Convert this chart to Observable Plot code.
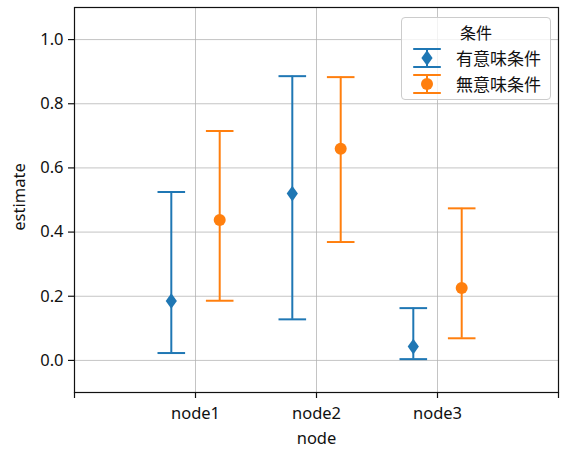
<!DOCTYPE html>
<html><head><meta charset="utf-8">
<script src="https://cdn.jsdelivr.net/npm/d3@7"></script>
<script src="https://cdn.jsdelivr.net/npm/@observablehq/plot@0.6"></script>
<style>
body{margin:0;background:#fff;}
#wrap{position:relative;width:572px;height:457px;font-family:"Noto Sans","Noto Sans CJK JP",sans-serif;color:#111;}
.legend{position:absolute;left:401px;top:17px;width:150px;height:83px;border:1px solid #cccccc;border-radius:4px;background:rgba(255,255,255,0.8);box-sizing:border-box;}
.legend .t{position:absolute;left:0;width:100%;text-align:center;font-size:16px;line-height:20px;top:4px;font-family:"Noto Sans CJK JP",sans-serif;}
.legend .l{position:absolute;left:54px;font-size:17px;line-height:20px;font-family:"Noto Sans CJK JP",sans-serif;white-space:nowrap;}
.legend svg{position:absolute;left:10px;}
</style></head><body><div id="wrap"></div>
<script>
const nodes = ["node1", "node2", "node3"];
const conditions = ["有意味条件", "無意味条件"];
const legendTitle = "条件";
const estMeaningful = [0.185, 0.520, 0.043];
const lowMeaningful = [0.023, 0.128, 0.004];
const highMeaningful = [0.525, 0.886, 0.163];
const estMeaningless = [0.438, 0.660, 0.226];
const lowMeaningless = [0.186, 0.369, 0.069];
const highMeaningless = [0.715, 0.883, 0.474];
const xTickLabels = ["", "node1", "node2", "node3", ""];
const yTicks = [0.0, 0.2, 0.4, 0.6, 0.8, 1.0];
const yLabel = "estimate";
const xLabel = "node";
const colors = ["#1f77b4", "#ff7f0e"];

const series = [
  {est: estMeaningful, lo: lowMeaningful, hi: highMeaningful},
  {est: estMeaningless, lo: lowMeaningless, hi: highMeaningless}
];
const offsets = [-0.2, 0.2];
const rows = [];
series.forEach((s, ci) => {
  nodes.forEach((n, ni) => {
    rows.push({node: n, cond: conditions[ci], pos: ni + 1 + offsets[ci], est: s.est[ni], lo: s.lo[ni], hi: s.hi[ni]});
  });
});

const CAP = 13.8;
const DW = 5.6, DH = 7.8;
const capSym = {draw(ctx) { ctx.moveTo(-CAP, 0); ctx.lineTo(CAP, 0); }};
const diamondSym = {draw(ctx) { ctx.moveTo(0, -DH); ctx.lineTo(DW, 0); ctx.lineTo(0, DH); ctx.lineTo(-DW, 0); ctx.closePath(); }};
const circleSym = {draw(ctx) { ctx.moveTo(6, 0); ctx.arc(0, 0, 6, 0, 2 * Math.PI); }};

const meaningfulRows = rows.filter(d => d.cond === conditions[0]);
const meaninglessRows = rows.filter(d => d.cond === conditions[1]);

const FONT = '"Noto Sans","Noto Sans CJK JP",sans-serif';
const chart = Plot.plot({
  width: 572,
  height: 457,
  marginLeft: 74,
  marginRight: 14,
  marginTop: 7,
  marginBottom: 65,
  style: {fontFamily: FONT, fontSize: "16.5px", color: "#111", background: "transparent", overflow: "visible"},
  x: {domain: [0, 4]},
  y: {domain: [-0.1, 1.1]},
  color: {domain: conditions, range: colors},
  marks: [
    Plot.gridY(yTicks, {stroke: "#b0b0b0", strokeOpacity: 0.75, strokeWidth: 1}),
    Plot.gridX([1, 2, 3], {stroke: "#b0b0b0", strokeOpacity: 0.75, strokeWidth: 1}),
    Plot.axisY({ticks: yTicks, tickFormat: d => d.toFixed(1), tickSize: 6, tickPadding: 5, label: null, fontSize: 16.5, strokeWidth: 1.2}),
    Plot.axisX({ticks: [0, 1, 2, 3, 4], tickFormat: d => xTickLabels[d], tickSize: 6, tickPadding: 9, label: null, fontSize: 16.5, strokeWidth: 1.2}),
    Plot.text([yLabel], {text: d => d, frameAnchor: "left", textAnchor: "middle", lineAnchor: "middle", rotate: -90, dx: -55, dy: -3, fontSize: 16.5, fill: "#111"}),
    Plot.text([xLabel], {text: d => d, frameAnchor: "bottom", textAnchor: "middle", lineAnchor: "middle", dy: 46, fontSize: 16.5, fill: "#111"}),
    Plot.ruleX(rows, {x: "pos", y1: "lo", y2: "hi", stroke: "cond", strokeWidth: 2}),
    Plot.dot(rows, {x: "pos", y: "hi", symbol: capSym, stroke: "cond", fill: "none", strokeWidth: 2, r: 5}),
    Plot.dot(rows, {x: "pos", y: "lo", symbol: capSym, stroke: "cond", fill: "none", strokeWidth: 2, r: 5}),
    Plot.dot(meaningfulRows, {x: "pos", y: "est", symbol: diamondSym, fill: "cond", stroke: "none", r: 5}),
    Plot.dot(meaninglessRows, {x: "pos", y: "est", symbol: circleSym, fill: "cond", stroke: "none", r: 5}),
    Plot.frame({stroke: "#111", strokeWidth: 1.2})
  ]
});

const wrap = document.getElementById("wrap");
wrap.appendChild(chart);

function handle(color, marker, top) {
  const ns = "http://www.w3.org/2000/svg";
  const svg = document.createElementNS(ns, "svg");
  svg.setAttribute("width", 30); svg.setAttribute("height", 22);
  svg.style.top = top + "px";
  const g = d3.select(svg);
  g.append("line").attr("x1", 15).attr("x2", 15).attr("y1", 2).attr("y2", 20).attr("stroke", color).attr("stroke-width", 2);
  g.append("line").attr("x1", 15 - CAP).attr("x2", 15 + CAP).attr("y1", 2).attr("y2", 2).attr("stroke", color).attr("stroke-width", 2);
  g.append("line").attr("x1", 15 - CAP).attr("x2", 15 + CAP).attr("y1", 20).attr("y2", 20).attr("stroke", color).attr("stroke-width", 2);
  if (marker === "d") g.append("path").attr("d", `M15,${11 - DH}L${15 + DW},11L15,${11 + DH}L${15 - DW},11Z`).attr("fill", color);
  else g.append("circle").attr("cx", 15).attr("cy", 11).attr("r", 6).attr("fill", color);
  return svg;
}

const leg = document.createElement("div");
leg.className = "legend";
const t = document.createElement("div"); t.className = "t"; t.textContent = legendTitle; leg.appendChild(t);
leg.appendChild(handle(colors[0], "d", 28.5));
leg.appendChild(handle(colors[1], "o", 55));
const l1 = document.createElement("div"); l1.className = "l"; l1.style.top = "30px"; l1.textContent = conditions[0]; leg.appendChild(l1);
const l2 = document.createElement("div"); l2.className = "l"; l2.style.top = "55.5px"; l2.textContent = conditions[1]; leg.appendChild(l2);
wrap.appendChild(leg);
</script>
</body></html>
